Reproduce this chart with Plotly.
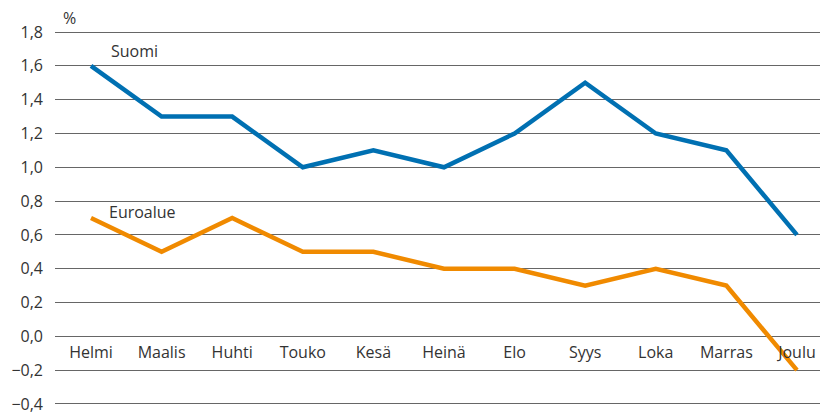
import plotly.graph_objects as go

months = ["Helmi", "Maalis", "Huhti", "Touko", "Kesä", "Heinä", "Elo", "Syys", "Loka", "Marras", "Joulu"]
suomi = [1.6, 1.3, 1.3, 1.0, 1.1, 1.0, 1.2, 1.5, 1.2, 1.1, 0.6]
euroalue = [0.7, 0.5, 0.7, 0.5, 0.5, 0.4, 0.4, 0.3, 0.4, 0.3, -0.2]
ytick_vals = [-0.4, -0.2, 0.0, 0.2, 0.4, 0.6, 0.8, 1.0, 1.2, 1.4, 1.6, 1.8]
ytick_text = ["\u22120,4", "\u22120,2", "0,0", "0,2", "0,4", "0,6", "0,8", "1,0", "1,2", "1,4", "1,6", "1,8"]

FONT = "Open Sans"
TXT = "#333333"
FS = 16

fig = go.Figure()
fig.add_trace(go.Scatter(x=list(range(len(months))), y=suomi, mode="lines",
                         line=dict(color="#0070B2", width=4.5), name="Suomi"))
fig.add_trace(go.Scatter(x=list(range(len(months))), y=euroalue, mode="lines",
                         line=dict(color="#F08A00", width=4.5), name="Euroalue"))

fig.add_annotation(x=0.26, y=1.6, xref="x", yref="y", text="Suomi", showarrow=False,
                   xanchor="left", yanchor="bottom", yshift=2, font=dict(size=FS, color=TXT, family=FONT))
fig.add_annotation(x=0.22, y=0.7, xref="x", yref="y", text="Euroalue", showarrow=False,
                   xanchor="left", yanchor="bottom", yshift=-7, font=dict(size=FS, color=TXT, family=FONT))
fig.add_annotation(xref="paper", yref="paper", x=(69 - 55) / 773, y=(403 - 19) / 371,
                   text="%", showarrow=False, xanchor="center", yanchor="middle",
                   font=dict(size=FS, color=TXT, family=FONT))

# page body has an 8px default margin; figure is sized to fill the rest of the window
fig.update_layout(
    width=820, height=405,
    margin=dict(l=47, r=0, t=23, b=8, autoexpand=False),
    paper_bgcolor="white", plot_bgcolor="white",
    showlegend=False,
    font=dict(family=FONT, size=FS, color=TXT),
    xaxis=dict(tickmode="array", tickvals=list(range(len(months))), ticktext=months,
               range=[-0.51, 10.44], showgrid=False, zeroline=False, showline=False,
               ticks="", anchor="free", position=0.406 / 2.212, ticklabelstandoff=5,
               automargin=False, ticklabeloverflow="allow",
               tickfont=dict(size=FS, color=TXT, family=FONT)),
    yaxis=dict(tickmode="array", tickvals=ytick_vals, ticktext=ytick_text,
               range=[-0.406, 1.806], showgrid=True, gridcolor="#666666", gridwidth=1,
               zeroline=False, showline=False, ticks="", ticklabelstandoff=11,
               automargin=False, ticklabeloverflow="allow",
               tickfont=dict(size=FS, color=TXT, family=FONT)),
)

fig.write_html("out.html")
